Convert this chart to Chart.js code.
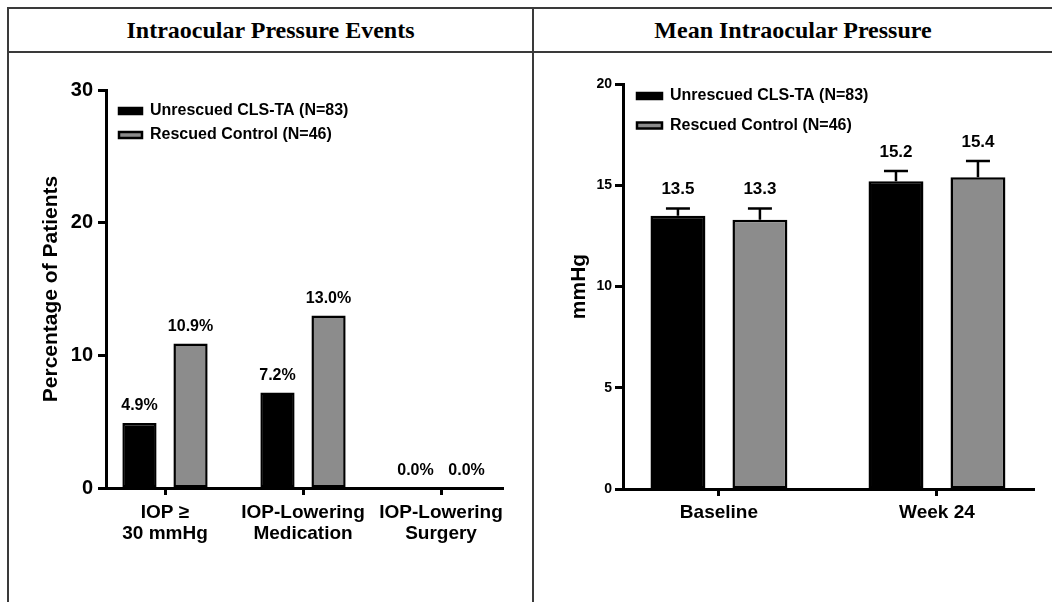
<!DOCTYPE html>
<html>
<head>
<meta charset="utf-8">
<script src="https://cdn.jsdelivr.net/npm/chart.js@4.4.1/dist/chart.umd.min.js"></script>
<style>
  body { margin: 0; background: #fff; }
  #frame { position: absolute; left: 0; top: 0; width: 1052px; height: 602px; overflow: hidden; }
  .rule { position: absolute; background: #3a3a3a; }
  .head { position: absolute; top: 9px; height: 42px; text-align: center;
          font: bold 24px "Liberation Serif", "Times New Roman", serif; line-height: 42px; color: #000; }
  .cell { position: absolute; top: 0; height: 602px; }
</style>
</head>
<body>
<div id="frame">
  <div class="rule" style="left:7px;top:7px;width:1045px;height:2px"></div>
  <div class="rule" style="left:7px;top:51px;width:1045px;height:2px"></div>
  <div class="rule" style="left:7px;top:7px;width:2px;height:595px"></div>
  <div class="rule" style="left:532px;top:7px;width:2px;height:595px"></div>
  <div class="head" style="left:9px;width:523px">Intraocular Pressure Events</div>
  <div class="head" style="left:534px;width:518px">Mean Intraocular Pressure</div>
  <div class="cell" style="left:0;width:532px"><canvas id="events"></canvas></div>
  <div class="cell" style="left:533px;width:519px"><canvas id="mean"></canvas></div>
</div>
<script>
// series
const seriesNames = ['Unrescued CLS-TA (N=83)', 'Rescued Control (N=46)'];

// left panel: percentage of patients
const eventCategories = [['IOP \u2265', '30 mmHg'], ['IOP-Lowering', 'Medication'], ['IOP-Lowering', 'Surgery']];
const eventUnrescued = [4.9, 7.2, 0.0];
const eventRescued = [10.9, 13.0, 0.0];
const eventTicks = [0, 10, 20, 30];

// right panel: mean IOP (mmHg) with upper error
const meanCategories = ['Baseline', 'Week 24'];
const meanUnrescued = [13.5, 15.2];
const meanRescued = [13.3, 15.4];
const meanUnrescuedErr = [0.35, 0.5];
const meanRescuedErr = [0.55, 0.8];
const meanTicks = [0, 5, 10, 15, 20];

Chart.defaults.font.family = '"Liberation Sans", Arial, sans-serif';
Chart.defaults.font.weight = 'bold';
Chart.defaults.color = '#000';

const BLACK = '#000';
const GREY = '#8c8c8c';

// moves the in-area legend to a fixed spot
var legendSpot = (x, y) => ({
  id: 'legendSpot',
  afterLayout(chart) {
    const lg = chart.legend;
    lg.left = x; lg.top = y;
    lg.right = x + lg.width; lg.bottom = y + lg.height;
  }
});

// value labels and (optional) upper error bars
var barMarks = (errors, format, size, gap) => ({
  id: 'barMarks',
  afterDatasetsDraw(chart) {
    const ctx = chart.ctx;
    const yScale = chart.scales.y;
    ctx.save();
    chart.data.datasets.forEach((ds, d) => {
      chart.getDatasetMeta(d).data.forEach((bar, i) => {
        const v = ds.data[i].y;
        let top = bar.y;
        if (errors) {
          const e = yScale.getPixelForValue(v + errors[d][i]);
          ctx.strokeStyle = BLACK;
          ctx.lineWidth = 2.5;
          ctx.beginPath();
          ctx.moveTo(bar.x, bar.y); ctx.lineTo(bar.x, e);
          ctx.moveTo(bar.x - 12, e); ctx.lineTo(bar.x + 12, e);
          ctx.stroke();
          top = e;
        }
        ctx.fillStyle = BLACK;
        ctx.font = 'bold ' + size + 'px "Liberation Sans", Arial, sans-serif';
        ctx.textAlign = 'center';
        ctx.textBaseline = 'middle';
        ctx.fillText(format(v), bar.x, top - gap);
      });
    });
    ctx.restore();
  }
});

var makeSets = (a, b, catPct) => [a, b].map((vals, k) => ({
  label: seriesNames[k],
  data: vals.map((v, i) => ({ x: i, y: v })),
  backgroundColor: k ? GREY : BLACK,
  borderColor: BLACK,
  borderWidth: 2.5,
  borderSkipped: false,
  barPercentage: 0.67,
  categoryPercentage: catPct
}));

var axisOpts = (cats, min, max, fontSize, pad) => ({
  type: 'linear',
  min: min,
  max: max,
  offset: false,
  bounds: 'data',
  afterBuildTicks: s => { s.ticks = cats.map((c, i) => ({ value: i })); },
  afterFit: s => { s.height = 60; },
  ticks: {
    callback: v => cats[v],
    autoSkip: false,
    maxRotation: 0,
    padding: pad,
    color: BLACK,
    font: { size: fontSize, weight: 'bold', lineHeight: 1.1 }
  },
  grid: { offset: false, drawOnChartArea: false, drawTicks: true, tickLength: 7, tickWidth: 3, tickColor: BLACK },
  border: { display: true, width: 3, color: BLACK }
});

var valueAxis = (ticks, title, tickSize, tickPad, titlePad) => ({
  min: ticks[0],
  max: ticks[ticks.length - 1],
  afterBuildTicks: s => { s.ticks = ticks.map(v => ({ value: v })); },
  afterFit: s => { s.width = 80; },
  ticks: { padding: tickPad, color: BLACK, font: { size: tickSize, weight: 'bold' } },
  grid: { drawOnChartArea: false, drawTicks: true, tickLength: 8, tickWidth: 3, tickColor: BLACK },
  border: { display: true, width: 3, color: BLACK },
  title: {
    display: true, text: title, color: BLACK,
    font: { size: 21, weight: 'bold' },
    padding: { top: titlePad, bottom: 0 }
  }
});

var legendOpts = (pad, boxW) => ({
  position: 'chartArea',
  align: 'start',
  labels: {
    boxWidth: boxW, boxHeight: 6, padding: pad, color: BLACK,
    font: { size: 16, weight: 'bold' }
  }
});

new Chart(document.getElementById('events'), {
  type: 'bar',
  data: { datasets: makeSets(eventUnrescued, eventRescued, 0.74) },
  options: {
    responsive: true,
    maintainAspectRatio: false,
    animation: false,
    layout: { padding: { left: 26, right: 29, top: 90, bottom: 54 } },
    scales: {
      x: axisOpts(eventCategories, -0.4275, 2.449, 19, 7),
      y: valueAxis(eventTicks, 'Percentage of Patients', 20, 5, 13)
    },
    plugins: {
      legend: legendOpts(8, 23),
      tooltip: { enabled: false }
    }
  },
  plugins: [legendSpot(111, 95), barMarks(null, v => v.toFixed(1) + '%', 16, 17)]
});

new Chart(document.getElementById('mean'), {
  type: 'bar',
  data: { datasets: makeSets(meanUnrescued, meanRescued, 0.752) },
  options: {
    responsive: true,
    maintainAspectRatio: false,
    animation: false,
    layout: { padding: { left: 10, right: 18, top: 84, bottom: 53 } },
    scales: {
      x: axisOpts(meanCategories, -0.44, 1.445, 19, 6),
      y: valueAxis(meanTicks, 'mmHg', 14, 3, 24)
    },
    plugins: {
      legend: legendOpts(13.5, 25),
      tooltip: { enabled: false }
    }
  },
  plugins: [legendSpot(90.5, 74.5), barMarks([meanUnrescuedErr, meanRescuedErr], v => v.toFixed(1), 17, 19)]
});
</script>
</body>
</html>
